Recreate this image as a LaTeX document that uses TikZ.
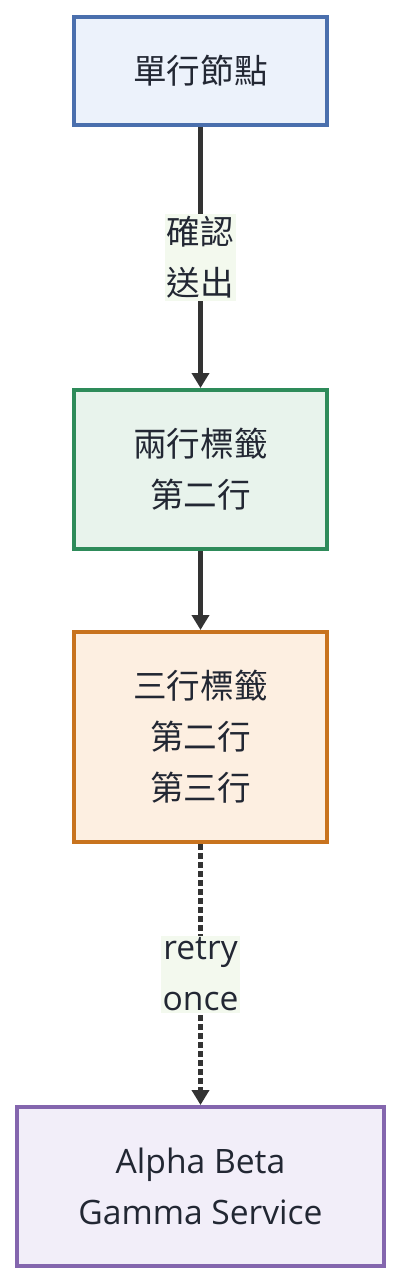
\documentclass[tikz,border=0pt]{standalone}
\usepackage{fontspec}
\setmainfont{Open Sans}
\newfontfamily\cjk{Noto Sans CJK TC}
\usetikzlibrary{arrows.meta}
\definecolor{edgegray}{HTML}{333333}
\definecolor{inkdark}{HTML}{222733}
\definecolor{blueline}{HTML}{4A6FAD}
\definecolor{bluefill}{HTML}{ECF2FB}
\definecolor{greenline}{HTML}{2E8B5A}
\definecolor{greenfill}{HTML}{E8F3EC}
\definecolor{orangeline}{HTML}{C8731E}
\definecolor{orangefill}{HTML}{FDEFE1}
\definecolor{purpleline}{HTML}{8466AE}
\definecolor{purplefill}{HTML}{F2EEF9}
\definecolor{labelfill}{HTML}{F3F9EE}

\begin{document}
\begin{tikzpicture}[x=0.5pt,y=-0.5pt,
	box/.style={draw,line width=2pt,minimum width=126.5pt,align=center,text=inkdark,
		font=\fontsize{16.8}{25.5}\selectfont},
	flow/.style={draw=edgegray,line width=2.2pt,-{Triangle[width=8.5pt,length=7.5pt]}},
	edgelabel/.style={fill=labelfill,inner sep=1pt,align=center,text=inkdark,
		font=\fontsize{16.8}{25.5}\selectfont}]
		\useasboundingbox (0,0) rectangle (402,1284);
		\node[box,draw=blueline,fill=bluefill,minimum height=54pt] (single) at (200.5,71) {\cjk 單行節點};
		\node[box,draw=greenline,fill=greenfill,minimum height=79.5pt] (twoline) at (200.5,469.5) {\cjk 兩行標籤\\\cjk 第二行};
		\node[box,draw=orangeline,fill=orangefill,minimum height=105pt] (threeline) at (200.5,737) {\cjk 三行標籤\\\cjk 第二行\\\cjk 第三行};
		\node[box,draw=purpleline,fill=purplefill,minimum width=183.5pt,minimum height=79.5pt] (service) at (200.5,1186.5) {Alpha Beta\\Gamma Service};
		\draw[flow] (single) -- node[edgelabel] {\cjk 確認\\\cjk 送出} (twoline);
		\draw[flow] (twoline) -- (threeline);
		\draw[flow,dash pattern=on 3pt off 1.5pt] (threeline) -- node[edgelabel] {retry\\once} (service);
		\end{tikzpicture}
\end{document}
